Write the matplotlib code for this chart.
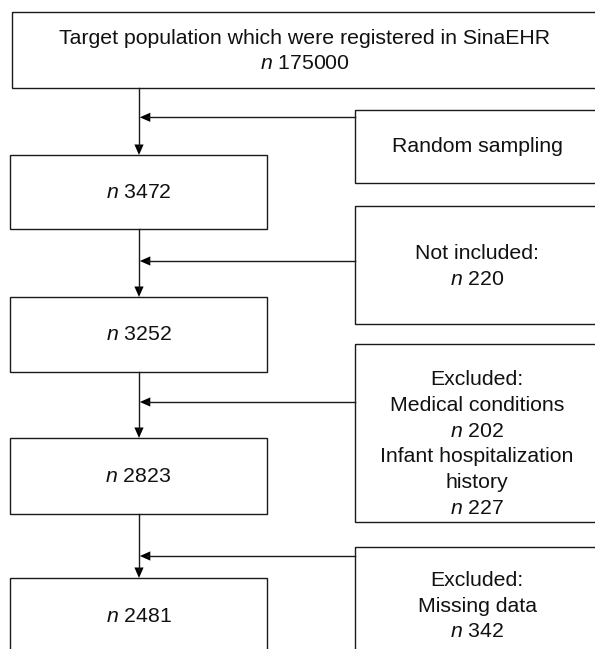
import matplotlib.pyplot as plt
from matplotlib.patches import Rectangle, Polygon

plt.rcParams['font.family'] = ['Liberation Sans', 'DejaVu Sans']
plt.rcParams['mathtext.fontset'] = 'custom'
plt.rcParams['mathtext.rm'] = 'Liberation Sans'
plt.rcParams['mathtext.it'] = 'Liberation Sans:italic'

# flow data
top_label = "Target population which were registered in SinaEHR"
stage_counts = [175000, 3472, 3252, 2823, 2481]
side_labels = [
    ["Random sampling"],
    ["Not included:"],
    ["Excluded:", "Medical conditions"],
    ["Excluded:", "Missing data"],
]
# counts shown in side boxes (None = no count line)
side_counts = [None, 220, 202, 342]
extra_lines = ["Infant hospitalization", "history"]
extra_count = 227


def n_text(v):
    return r"$\mathit{n}$ " + str(v)


W, H = 595, 649
fig = plt.figure(figsize=(W / 100, H / 100), dpi=100)
ax = fig.add_axes([0, 0, 1, 1])
ax.set_xlim(0, W)
ax.set_ylim(H, 0)
ax.axis('off')

FS = 15.3
LW = 1.0
LINE = 25.8


def box(x0, y0, x1, y1):
    ax.add_patch(Rectangle((x0, y0), x1 - x0, y1 - y0, fill=False,
                           edgecolor='#1a1a1a', lw=LW))


def lines_at(cx, cy, lines):
    n = len(lines)
    for i, s in enumerate(lines):
        y = cy + (i - (n - 1) / 2) * LINE
        ax.text(cx, y, s, ha='center', va='center', fontsize=FS, color='#111111')


def head(tipx, tipy, direction, length=10.5, half=4.6):
    if direction == 'down':
        pts = [(tipx, tipy), (tipx - half, tipy - length), (tipx + half, tipy - length)]
    else:  # pointing left
        pts = [(tipx, tipy), (tipx + length, tipy - half), (tipx + length, tipy + half)]
    ax.add_patch(Polygon(pts, closed=True, color='black', lw=0))


# layout
vx = 139
main_left, main_right = 10, 267
main_tops = [155, 297, 438, 578]
main_bots = [228.5, 372, 513.5, 700]
main_text_y = [193, 335, 476.5, 616.5]
side_left, side_right = 355, 599
side_tops = [110, 206, 344, 547]
side_bots = [183, 324, 522, 700]
side_text_y = [146.5, 266.5, 444, 606]
arrow_ys = [117.3, 261, 402, 556]

# top box
top_box = (12, 12, 597, 87.5)
box(*top_box)
lines_at((top_box[0] + top_box[2]) / 2, 51,
         [top_label, n_text(stage_counts[0])])

# main boxes
for i, c in enumerate(stage_counts[1:]):
    box(main_left, main_tops[i], main_right, main_bots[i])
    lines_at((main_left + main_right) / 2, main_text_y[i], [n_text(c)])

# vertical connectors
prev_bottoms = [top_box[3]] + main_bots[:3]
for i in range(4):
    ax.plot([vx, vx], [prev_bottoms[i], main_tops[i] - 8], color='#1a1a1a', lw=LW)
    head(vx, main_tops[i], 'down')

# side boxes and horizontal arrows
for i, lbl in enumerate(side_labels):
    box(side_left, side_tops[i], side_right, side_bots[i])
    txt = list(lbl)
    if side_counts[i] is not None:
        txt.append(n_text(side_counts[i]))
    if i == 2:
        txt += extra_lines + [n_text(extra_count)]
    lines_at((side_left + side_right) / 2, side_text_y[i], txt)
    ax.plot([side_left, vx + 8], [arrow_ys[i], arrow_ys[i]], color='#1a1a1a', lw=LW)
    head(vx + 0.8, arrow_ys[i], 'left')

fig.savefig('out.png', dpi=100)
